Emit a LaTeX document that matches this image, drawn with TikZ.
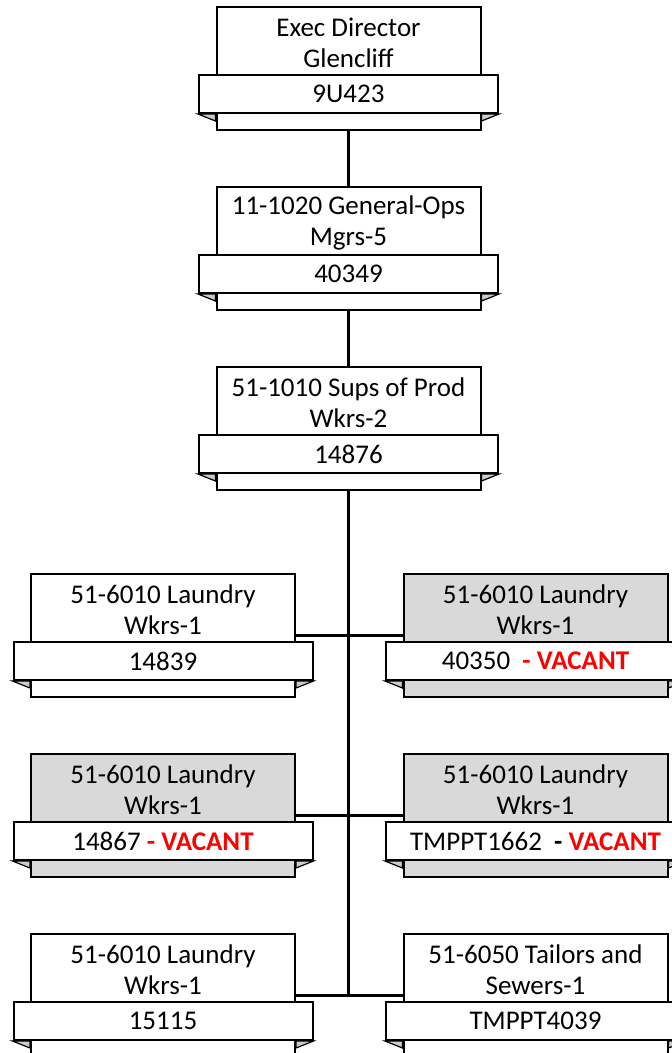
\documentclass[tikz,border=0pt]{standalone}
\usepackage{fontspec}
\setmainfont{Carlito}
\usepackage{tikz}
\usetikzlibrary{positioning, calc}

\definecolor{vacgray}{HTML}{D9D9D9}
\definecolor{vacred}{HTML}{FF0000}
\newcommand{\vacant}{\textbf{\color{vacred}- VACANT}}

% one position: body, title, banner and the two folds
\newcommand{\posbox}[5]{%
  \node [body, fill=#3] (#1) at (#2) {};
  \node [title] (#1-t) at ($(#1.north)+(0,36.5)$) {#4};
  \node [banner] (#1-b) at ($(#1.north)+(0,88)$) {#5};
  \filldraw [fold] (#1-b.south west) -- (#1-b.south west -| #1.west) -- ++(0,7) -- cycle;
  \filldraw [fold] (#1-b.south east) -- (#1-b.south east -| #1.east) -- ++(0,7) -- cycle;
}

\begin{document}
\begin{tikzpicture}[
    x=1pt, y=-1pt,
    font=\fontsize{27}{31}\selectfont,
    body/.style={rectangle, draw=black, line width=2pt, minimum width=264pt, minimum height=123pt, inner sep=0pt},
    title/.style={align=center, inner sep=0pt},
    banner/.style={rectangle, draw=black, fill=white, line width=2pt, minimum width=299pt, minimum height=38pt, inner sep=0pt},
    fold/.style={draw=black, fill=gray!40, line width=1.2pt},
    link/.style={line width=2.4pt},
    trunk/.style={line width=3.6pt}
]
\useasboundingbox (0,0) rectangle (672,1053);
\clip (0,0) rectangle (672,1053);

% Nodes
\posbox{exec}{348.5,68.5}{white}{Exec Director\\Glencliff}{9U423}
\posbox{ops}{348.5,248.5}{white}{11-1020 General-Ops\\Mgrs-5}{40349}
\posbox{sups}{348.5,428.5}{white}{51-1010 Sups of Prod\\Wkrs-2}{14876}
\posbox{ldrA}{163,635.5}{white}{51-6010 Laundry\\Wkrs-1}{14839}
\posbox{ldrB}{535.5,635.5}{vacgray}{51-6010 Laundry\\Wkrs-1}{40350\ \ \vacant}
\posbox{ldrC}{163,815.5}{vacgray}{51-6010 Laundry\\Wkrs-1}{14867 \vacant}
\posbox{ldrD}{535.5,815.5}{vacgray}{51-6010 Laundry\\Wkrs-1}{TMPPT1662\ \ \textbf{-} \textbf{\color{vacred}VACANT}}
\posbox{ldrE}{163,995.5}{white}{51-6010 Laundry\\Wkrs-1}{15115}
\posbox{tlr}{535.5,995.5}{white}{51-6050 Tailors and\\Sewers-1}{TMPPT4039}

% Connections
\draw [link] (exec.south) -- (ops.north);
\draw [link] (ops.south) -- (sups.north);
\draw [trunk] (sups.south) -- (sups.south |- ldrE.east);
\draw [link] (ldrA.east) -- (ldrB.west);
\draw [link] (ldrC.east) -- (ldrD.west);
\draw [link] (ldrE.east) -- (tlr.west);
\end{tikzpicture}
\end{document}
